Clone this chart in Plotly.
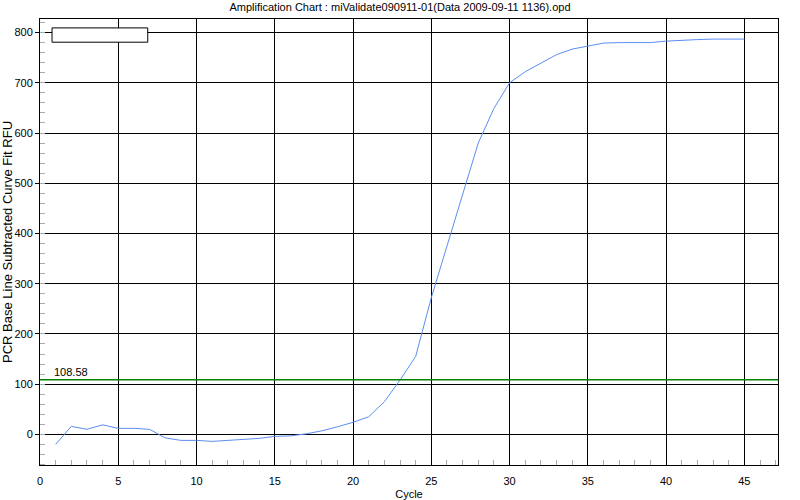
import plotly.graph_objects as go

cycles = list(range(1, 46))
rfu = [-20, 16, 10, 19, 12, 12, 10, -7, -12, -12,
       -14, -12, -10, -8, -4, -3, 1, 7, 15, 24,
       35, 65, 108, 155, 272, 375, 479, 580, 649, 700,
       722, 739, 756, 767, 773, 779, 780, 780, 780, 783,
       785, 786, 787, 787, 787]
threshold = 108.58
threshold_label = "108.58"
title_text = "Amplification Chart : miValidate090911-01(Data 2009-09-11 1136).opd"
x_title = "Cycle"
y_title = "PCR Base Line Subtracted Curve Fit RFU"

FONT = "Liberation Sans"

fig = go.Figure()
fig.add_trace(go.Scatter(x=cycles, y=rfu, mode="lines",
                         line=dict(color="#5b8ef0", width=1), showlegend=False))
fig.add_hline(y=threshold, line=dict(color="#008000", width=1.5))
fig.add_annotation(text=threshold_label, xref="paper", x=0.016, xanchor="left",
                   y=threshold, yref="y", yanchor="bottom", yshift=0,
                   showarrow=False, font=dict(family=FONT, size=11, color="black"))
fig.add_shape(type="rect", xref="paper", yref="paper",
              x0=0.0163, x1=0.146, y0=0.948, y1=0.980,
              line=dict(color="black", width=1), fillcolor="white")

fig.update_layout(
    width=800, height=500,
    margin=dict(l=40, r=22, t=19, b=35, autoexpand=False),
    paper_bgcolor="white", plot_bgcolor="white",
    font=dict(family=FONT, size=11, color="black"),
    title=dict(text=title_text, x=0.5, xanchor="center", y=0.985, yanchor="middle",
               automargin=False, font=dict(family=FONT, size=11, color="black")),
    xaxis=dict(range=[0, 47.15], dtick=5, tick0=0, showgrid=True, gridcolor="black",
               gridwidth=1, showline=True, linecolor="black", linewidth=1, mirror=True,
               zeroline=False, ticks="", tickfont=dict(family=FONT, size=11),
               automargin=False, ticklabelstandoff=6,
               title=dict(text=x_title, standoff=4, font=dict(family=FONT, size=11)),
               minor=dict(ticks="inside", dtick=1, ticklen=5, tickcolor="#aaaaaa",
                          showgrid=False)),
    yaxis=dict(range=[-61, 827], dtick=100, tick0=0, showgrid=True, gridcolor="black",
               gridwidth=1, showline=True, linecolor="black", linewidth=1, mirror=True,
               zeroline=False, ticks="outside", ticklen=4, tickcolor="black",
               tickfont=dict(family=FONT, size=11), automargin=False,
               title=dict(text=y_title, standoff=2, font=dict(family=FONT, size=13)),
               minor=dict(ticks="inside", dtick=20, ticklen=5, tickcolor="#aaaaaa",
                          showgrid=False)),
)

fig.write_html("out.html", config={"displayModeBar": False},
               post_script="document.body.style.margin='0';")
